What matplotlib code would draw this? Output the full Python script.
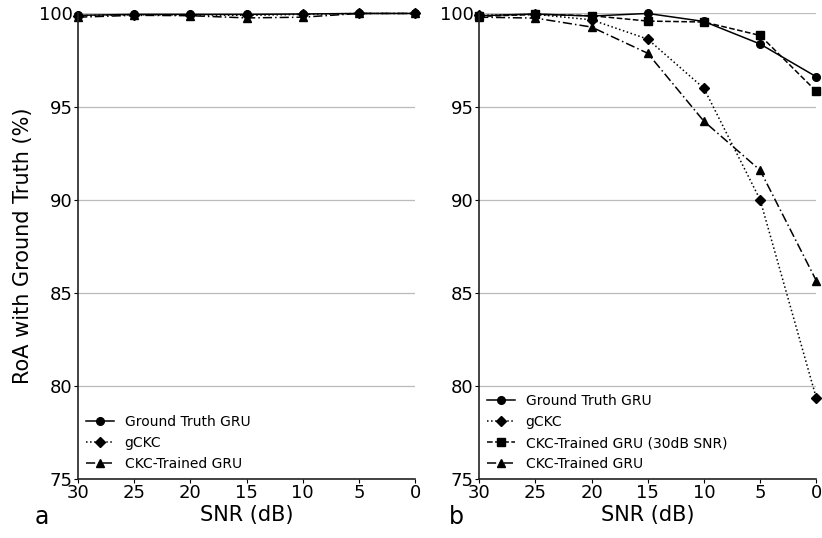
import numpy as np
import matplotlib.pyplot as plt

snr = [30, 25, 20, 15, 10, 5, 0]

# panel a
a_gt = [99.9, 99.95, 99.95, 99.95, 99.97, 100.0, 100.0]
a_gckc = [99.88, 99.93, 99.92, 99.9, 99.95, 100.0, 100.0]
a_ckc = [99.8, 99.9, 99.88, 99.76, 99.8, 100.0, 100.0]

# panel b
b_gt = [99.88, 99.97, 99.86, 100.0, 99.57, 98.36, 96.6]
b_gckc = [99.9, 99.95, 99.66, 98.62, 95.98, 90.0, 79.35]
b_ckc30 = [99.84, 99.95, 99.88, 99.59, 99.54, 98.82, 95.82]
b_ckc = [99.8, 99.75, 99.27, 97.86, 94.21, 91.58, 85.65]

plt.rcParams['font.family'] = 'DejaVu Sans'

fig, (ax1, ax2) = plt.subplots(1, 2, figsize=(8.22, 5.38), dpi=100)
fig.subplots_adjust(left=0.095, right=0.993, top=0.975, bottom=0.11, wspace=0.19)

def style(ax, letter, lx):
    ax.set_xlim(30, 0)
    ax.set_ylim(75, 100)
    ax.set_xticks(snr)
    ax.set_yticks([75, 80, 85, 90, 95, 100])
    ax.yaxis.grid(True, color='#bbbbbb', linewidth=0.9)
    ax.set_axisbelow(True)
    for s in ['top', 'right']:
        ax.spines[s].set_visible(False)
    for s in ['left', 'bottom']:
        ax.spines[s].set_color('#222222')
        ax.spines[s].set_linewidth(1.2)
    ax.tick_params(labelsize=13, length=3, pad=1)
    ax.set_xlabel('SNR (dB)', fontsize=15, labelpad=2)
    ax.text(lx, -0.083, letter, transform=ax.transAxes, fontsize=17, va='center')

kw = dict(color='black', markersize=5.5, linewidth=1.1, clip_on=False)

ax1.plot(snr, a_gt, '-', marker='o', label='Ground Truth GRU', **kw)
ax1.plot(snr, a_gckc, ':', marker='D', label='gCKC', **kw)
ax1.plot(snr, a_ckc, '-.', marker='^', label='CKC-Trained GRU', dashes=[6, 2, 1, 2], **kw)
style(ax1, 'a', -0.13)
ax1.set_ylabel('RoA with Ground Truth (%)', fontsize=15)
ax1.legend(loc='lower left', frameon=False, fontsize=10, handlelength=2, borderaxespad=0.15)

ax2.plot(snr, b_gt, '-', marker='o', label='Ground Truth GRU', **kw)
ax2.plot(snr, b_gckc, ':', marker='D', label='gCKC', **kw)
ax2.plot(snr, b_ckc30, '--', marker='s', label='CKC-Trained GRU (30dB SNR)', **kw)
ax2.plot(snr, b_ckc, '-.', marker='^', label='CKC-Trained GRU', dashes=[6, 2, 1, 2], **kw)
style(ax2, 'b', -0.09)
ax2.legend(loc='lower left', frameon=False, fontsize=10, handlelength=2, borderaxespad=0.15)

plt.savefig('out.png', dpi=100)
